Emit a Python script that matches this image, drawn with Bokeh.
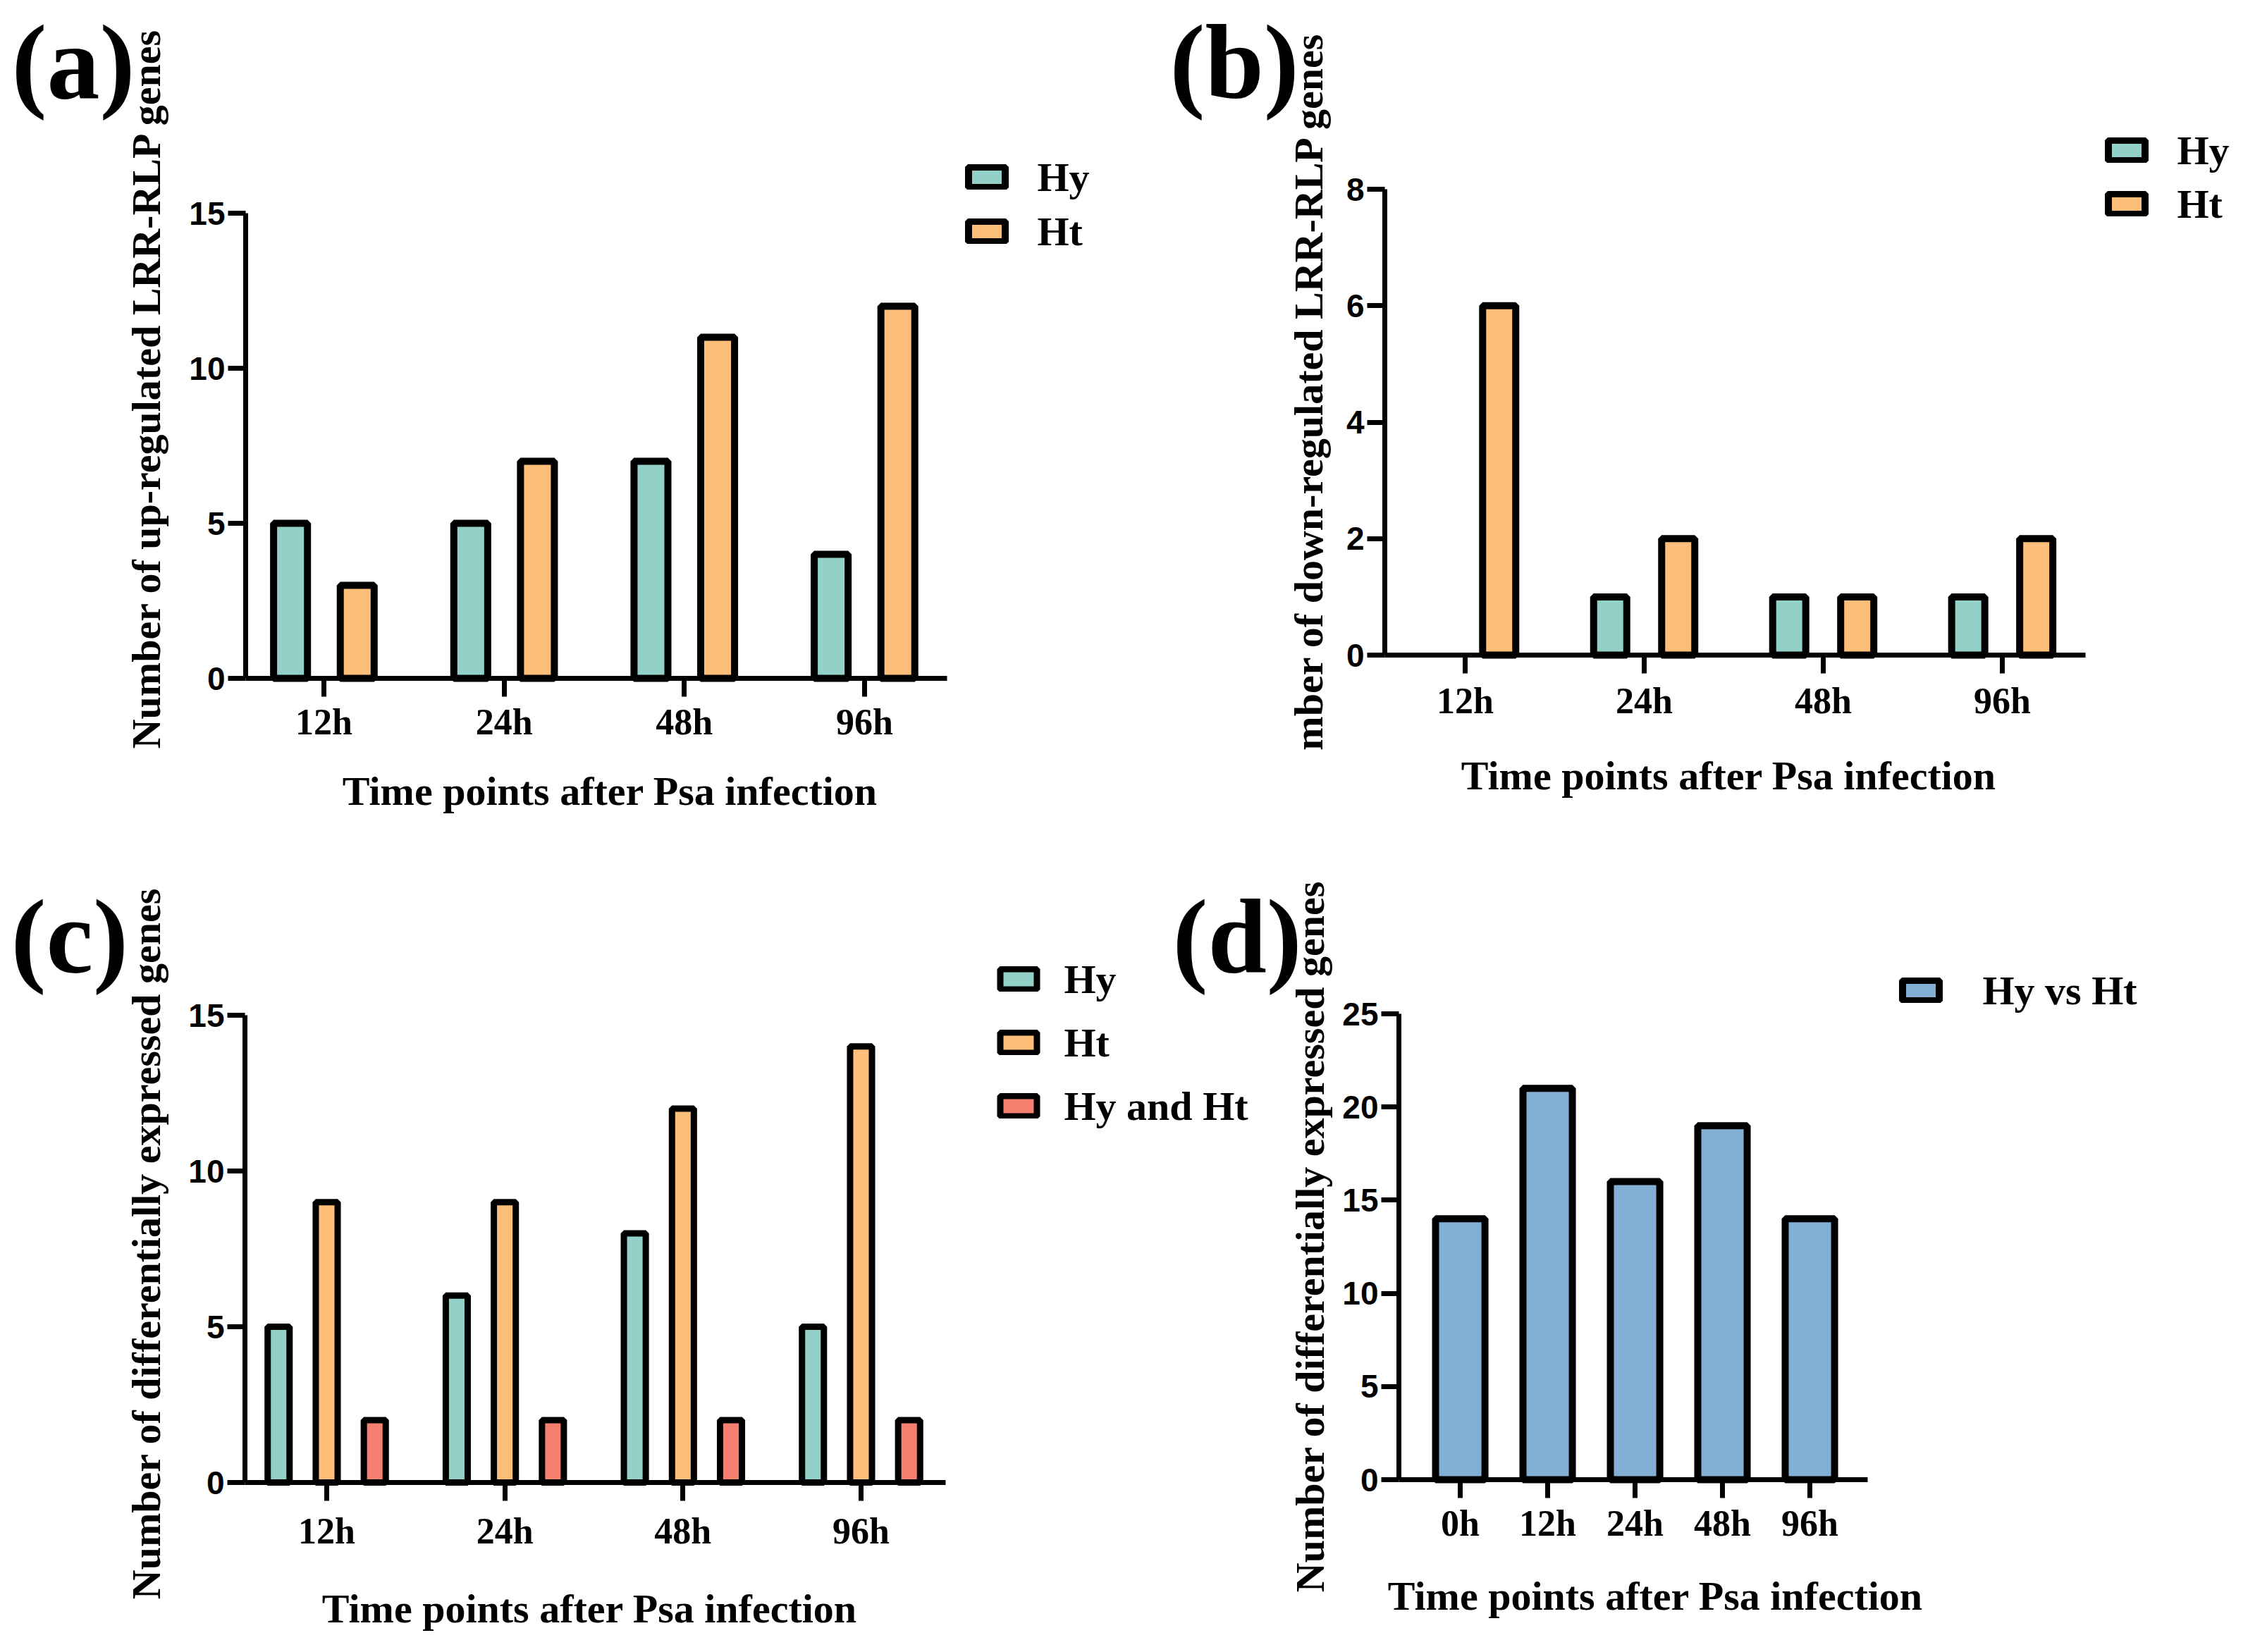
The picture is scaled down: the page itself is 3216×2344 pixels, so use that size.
from bokeh.plotting import figure
from bokeh.layouts import column, row
from bokeh.models import Range1d, FixedTicker, Label, Legend, LegendItem
from bokeh.embed import file_html
from bokeh.resources import INLINE

# data
times = ["12h", "24h", "48h", "96h"]
up_hy = [5, 5, 7, 4]
up_ht = [3, 7, 11, 12]
down_hy = [0, 1, 1, 1]
down_ht = [6, 2, 1, 2]
deg_hy = [5, 6, 8, 5]
deg_ht = [9, 9, 12, 14]
deg_both = [2, 2, 2, 2]
cmp_times = ["0h", "12h", "24h", "48h", "96h"]
cmp_hy_ht = [14, 21, 16, 19, 14]

TEAL = "#93d0c8"
ORANGE = "#fdbe7a"
RED = "#f58070"
BLUE = "#82afd3"
SERIF = "Liberation Serif"
SANS = "Liberation Sans"
LW = 10
X_TITLE = "Time points after Psa infection"

geo = {}  # page-pixel placement of each panel


def make_panel(box, axes_box, xr, yr, yticks, cats, standoff):
    """box: figure (left, top, w, h) on the page; axes_box: where the axis
    lines sit on the page (left, top, right, bottom) for ranges xr, yr."""
    bl, bt, bw, bh = box
    al, at, ar, ab = axes_box
    kx = (xr[1] - xr[0]) / (ar - al)
    ky = (yr[1] - yr[0]) / (ab - at)
    x0 = xr[0] + (bl - al) * kx
    x1 = xr[0] + (bl + bw - al) * kx
    y0 = yr[0] + (ab - (bt + bh)) * ky
    y1 = yr[0] + (ab - bt) * ky
    p = figure(width=bw, height=bh, output_backend="svg", toolbar_location=None,
               x_range=Range1d(x0, x1), y_range=Range1d(y0, y1),
               min_border=0)
    p.outline_line_color = None
    p.xgrid.visible = False
    p.ygrid.visible = False
    p.background_fill_color = "white"
    p.border_fill_color = "white"

    ax = p.xaxis[0]
    ax.fixed_location = yr[0]
    ax.bounds = xr
    ax.ticker = FixedTicker(ticks=list(range(1, len(cats) + 1)))
    ax.major_label_overrides = {i + 1: c for i, c in enumerate(cats)}
    ax.major_tick_out = 26
    ax.major_tick_in = 0
    ax.minor_tick_line_color = None
    ax.axis_line_width = 7
    ax.axis_line_color = "black"
    ax.major_tick_line_width = 7
    ax.major_tick_line_color = "black"
    ax.major_label_text_color = "black"
    ax.major_label_text_font = SERIF
    ax.major_label_text_font_style = "bold"
    ax.major_label_text_font_size = "52px"
    ax.major_label_standoff = standoff

    ay = p.yaxis[0]
    ay.fixed_location = xr[0]
    ay.bounds = yr
    ay.ticker = FixedTicker(ticks=yticks)
    ay.major_tick_out = 25
    ay.major_tick_in = 0
    ay.minor_tick_line_color = None
    ay.axis_line_width = 7
    ay.axis_line_color = "black"
    ay.major_tick_line_width = 7
    ay.major_tick_line_color = "black"
    ay.major_label_text_color = "black"
    ay.major_label_text_font = SANS
    ay.major_label_text_font_style = "bold"
    ay.major_label_text_font_size = "46px"
    ay.major_label_standoff = 4

    geo[p.id] = (box, (x0, x1), (y0, y1))
    return p


def to_data(p, sx, sy):
    (bl, bt, bw, bh), (x0, x1), (y0, y1) = geo[p.id]
    x = x0 + (sx - bl) / bw * (x1 - x0)
    y = y0 + (bt + bh - sy) / bh * (y1 - y0)
    return x, y


def put_text(p, sx, sy, text, size, angle=0.0, align="center", baseline="middle"):
    x, y = to_data(p, sx, sy)
    p.add_layout(Label(x=x, y=y, text=text, angle=angle, text_align=align,
                       text_baseline=baseline, text_font=SERIF,
                       text_font_style="bold", text_font_size=size,
                       text_color="black"))


def put_legend(p, items, box_left, first_y, step, standoff):
    (bl, bt, bw, bh), _, _ = geo[p.id]
    gw, gh, ih = 65, 36, 70
    spacing = int(round(step - ih))
    n = len(items)
    height = n * ih + (n - 1) * spacing
    vx = box_left + LW / 2 - 0.1 * gw - bl
    vy = (bt + bh) - (first_y - ih / 2) - height
    leg = Legend(items=[LegendItem(label=t, renderers=[r]) for t, r in items],
                 location=(vx, vy), padding=0, margin=0, spacing=spacing,
                 glyph_width=gw, glyph_height=gh, label_height=ih,
                 label_standoff=standoff, border_line_color=None,
                 background_fill_alpha=0,
                 label_text_font=SERIF, label_text_font_style="bold",
                 label_text_font_size="58px", label_text_color="black")
    p.add_layout(leg)


def bars(p, values, offset, width, color, lw=LW):
    # a count of zero draws no bar at all, as in the original
    pts = [(i + 1 + offset, v) for i, v in enumerate(values) if v > 0]
    return p.vbar(x=[a for a, _ in pts], top=[b for _, b in pts], bottom=0,
                  width=width, fill_color=color, line_color="black",
                  line_width=lw)


# (a) up-regulated
pa = make_panel((8, 8, 1600, 1192), (356, 310, 1351, 970), (0.566, 4.458), (0, 15),
                [0, 5, 10, 15], times, 7)
ra1 = bars(pa, up_hy, -0.185, 0.188, TEAL)
ra2 = bars(pa, up_ht, 0.185, 0.188, ORANGE)
put_legend(pa, [("Hy", ra1), ("Ht", ra2)], 1376, 259, 77, 40)
put_text(pa, 24, 95, "(a)", "150px", align="left")
put_text(pa, 215, 558, "Number of up-regulated LRR-RLP genes", "58px", angle=1.5708)
put_text(pa, 873, 1130, X_TITLE, "58px")

# (b) down-regulated
pb = make_panel((1608, 8, 1596, 1192), (1972, 276, 2966, 937), (0.551, 4.465), (0, 8),
                [0, 2, 4, 6, 8], times, 10)
rb1 = bars(pb, down_hy, -0.19, 0.185, TEAL)
rb2 = bars(pb, down_ht, 0.19, 0.185, ORANGE)
put_legend(pb, [("Hy", rb1), ("Ht", rb2)], 2993, 221, 76, 40)
put_text(pb, 1667, 95, "(b)", "150px", align="left")
put_text(pb, 1864, 562, "mber of down-regulated LRR-RLP genes", "58px", angle=1.5708)
put_text(pb, 2460, 1108, X_TITLE, "58px")

# (c) differentially expressed; its box also carries the "(d)" mark and
# the (d) y title, since the "Hy and Ht" legend reaches under "(d)"
pc = make_panel((8, 1200, 1894, 1128), (355, 1448, 1349, 2111), (0.541, 4.475), (0, 15),
                [0, 5, 10, 15], times, 14)
rc1 = bars(pc, deg_hy, -0.27, 0.123, TEAL, 9)
rc2 = bars(pc, deg_ht, 0.0, 0.123, ORANGE, 9)
rc3 = bars(pc, deg_both, 0.27, 0.123, RED, 9)
put_legend(pc, [("Hy", rc1), ("Ht", rc2), ("Hy and Ht", rc3)], 1421, 1397, 89.5, 33)
put_text(pc, 23, 1336, "(c)", "150px", align="left")
put_text(pc, 215, 1772, "Number of differentially expressed genes", "58px", angle=1.5708)
put_text(pc, 844, 2290, X_TITLE, "58px")
put_text(pc, 1671, 1336, "(d)", "150px", align="left")
put_text(pc, 1866, 1762, "Number of differentially expressed genes", "58px", angle=1.5708)

# (d) Hy vs Ht
pd_ = make_panel((1902, 1200, 1302, 1128), (1992, 1446, 2657, 2107), (0.298, 5.661), (0, 25),
                 [0, 5, 10, 15, 20, 25], cmp_times, 7)
rd1 = bars(pd_, cmp_hy_ht, 0.0, 0.565, BLUE)
put_legend(pd_, [("Hy vs Ht", rd1)], 2701, 1413, 80, 56)
put_text(pd_, 2356, 2272, X_TITLE, "58px")

layout = column(row(pa, pb), row(pc, pd_))
open("out.html", "w").write(file_html(layout, INLINE))
